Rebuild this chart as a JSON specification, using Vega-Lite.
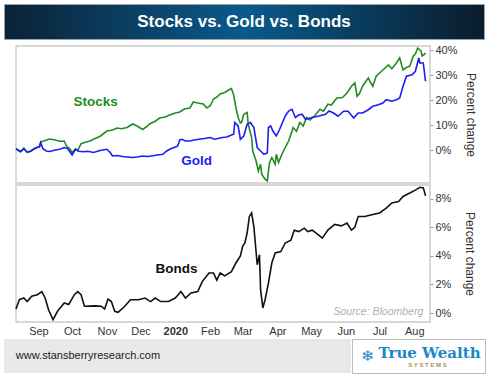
{
  "$schema": "https://vega.github.io/schema/vega-lite/v6.json",
  "background": "white",
  "padding": {"left": 3, "top": 3, "right": 3, "bottom": 3},
  "spacing": 3,
  "config": {"view": {"stroke": null}, "font": "Liberation Sans", "concat": {"spacing": 0}},
  "datasets": {
    "title": [{"label": "Stocks vs. Gold vs. Bonds"}],
    "site": [{"label": "www.stansberryresearch.com"}],
    "toplabels": [
      {"date": "2019-10-22", "value": 19.2, "label": "Stocks", "series": "Stocks"},
      {"date": "2020-01-20", "value": -4.4, "label": "Gold", "series": "Gold"}
    ],
    "bondlabel": [{"date": "2020-01-02", "value": 3.1, "label": "Bonds"}],
    "source": [{"date": "2020-08-09", "value": 0.07, "label": "Source: Bloomberg"}],
    "stockgold": [
      {"date": "2019-08-12", "series": "Stocks", "value": 0.5},
      {"date": "2019-08-16", "series": "Stocks", "value": -0.8},
      {"date": "2019-08-19", "series": "Stocks", "value": 0.8},
      {"date": "2019-08-22", "series": "Stocks", "value": -1.0},
      {"date": "2019-08-25", "series": "Stocks", "value": -0.5},
      {"date": "2019-08-29", "series": "Stocks", "value": 0.8},
      {"date": "2019-09-02", "series": "Stocks", "value": 1.2},
      {"date": "2019-09-03", "series": "Stocks", "value": 3.2},
      {"date": "2019-09-07", "series": "Stocks", "value": 3.8},
      {"date": "2019-09-11", "series": "Stocks", "value": 4.4},
      {"date": "2019-09-16", "series": "Stocks", "value": 4.0},
      {"date": "2019-09-20", "series": "Stocks", "value": 3.5},
      {"date": "2019-09-24", "series": "Stocks", "value": 3.6},
      {"date": "2019-09-26", "series": "Stocks", "value": 1.6},
      {"date": "2019-09-29", "series": "Stocks", "value": 0.5},
      {"date": "2019-10-01", "series": "Stocks", "value": -1.0},
      {"date": "2019-10-04", "series": "Stocks", "value": 0.5},
      {"date": "2019-10-06", "series": "Stocks", "value": -0.2},
      {"date": "2019-10-09", "series": "Stocks", "value": 2.5},
      {"date": "2019-10-12", "series": "Stocks", "value": 3.0},
      {"date": "2019-10-17", "series": "Stocks", "value": 3.6},
      {"date": "2019-10-21", "series": "Stocks", "value": 4.5},
      {"date": "2019-10-26", "series": "Stocks", "value": 5.5},
      {"date": "2019-11-01", "series": "Stocks", "value": 7.6},
      {"date": "2019-11-06", "series": "Stocks", "value": 8.0},
      {"date": "2019-11-10", "series": "Stocks", "value": 8.8},
      {"date": "2019-11-14", "series": "Stocks", "value": 8.5},
      {"date": "2019-11-19", "series": "Stocks", "value": 9.0},
      {"date": "2019-11-24", "series": "Stocks", "value": 10.4},
      {"date": "2019-11-28", "series": "Stocks", "value": 9.6},
      {"date": "2019-11-30", "series": "Stocks", "value": 9.0},
      {"date": "2019-12-03", "series": "Stocks", "value": 8.2},
      {"date": "2019-12-07", "series": "Stocks", "value": 9.5},
      {"date": "2019-12-09", "series": "Stocks", "value": 10.4},
      {"date": "2019-12-14", "series": "Stocks", "value": 11.5},
      {"date": "2019-12-18", "series": "Stocks", "value": 12.8},
      {"date": "2019-12-23", "series": "Stocks", "value": 13.2},
      {"date": "2019-12-27", "series": "Stocks", "value": 14.0},
      {"date": "2020-01-01", "series": "Stocks", "value": 14.8},
      {"date": "2020-01-05", "series": "Stocks", "value": 15.2},
      {"date": "2020-01-09", "series": "Stocks", "value": 16.4},
      {"date": "2020-01-14", "series": "Stocks", "value": 16.8},
      {"date": "2020-01-17", "series": "Stocks", "value": 19.2},
      {"date": "2020-01-21", "series": "Stocks", "value": 18.8},
      {"date": "2020-01-26", "series": "Stocks", "value": 18.4},
      {"date": "2020-01-29", "series": "Stocks", "value": 16.8},
      {"date": "2020-02-01", "series": "Stocks", "value": 17.6},
      {"date": "2020-02-04", "series": "Stocks", "value": 20.4},
      {"date": "2020-02-07", "series": "Stocks", "value": 21.2},
      {"date": "2020-02-10", "series": "Stocks", "value": 22.4},
      {"date": "2020-02-14", "series": "Stocks", "value": 23.0},
      {"date": "2020-02-19", "series": "Stocks", "value": 24.4},
      {"date": "2020-02-20", "series": "Stocks", "value": 24.6},
      {"date": "2020-02-22", "series": "Stocks", "value": 22.0},
      {"date": "2020-02-24", "series": "Stocks", "value": 17.0},
      {"date": "2020-02-26", "series": "Stocks", "value": 13.0},
      {"date": "2020-02-28", "series": "Stocks", "value": 10.8},
      {"date": "2020-02-29", "series": "Stocks", "value": 11.0},
      {"date": "2020-03-02", "series": "Stocks", "value": 14.3},
      {"date": "2020-03-05", "series": "Stocks", "value": 15.0},
      {"date": "2020-03-06", "series": "Stocks", "value": 10.3},
      {"date": "2020-03-09", "series": "Stocks", "value": 5.0},
      {"date": "2020-03-10", "series": "Stocks", "value": -0.4},
      {"date": "2020-03-13", "series": "Stocks", "value": -4.4},
      {"date": "2020-03-15", "series": "Stocks", "value": -8.4},
      {"date": "2020-03-17", "series": "Stocks", "value": -5.7},
      {"date": "2020-03-18", "series": "Stocks", "value": -9.7},
      {"date": "2020-03-21", "series": "Stocks", "value": -11.7},
      {"date": "2020-03-23", "series": "Stocks", "value": -12.4},
      {"date": "2020-03-24", "series": "Stocks", "value": -8.4},
      {"date": "2020-03-25", "series": "Stocks", "value": -5.0},
      {"date": "2020-03-27", "series": "Stocks", "value": -3.0},
      {"date": "2020-03-30", "series": "Stocks", "value": -5.7},
      {"date": "2020-03-31", "series": "Stocks", "value": -1.7},
      {"date": "2020-04-02", "series": "Stocks", "value": -5.0},
      {"date": "2020-04-05", "series": "Stocks", "value": -1.7},
      {"date": "2020-04-08", "series": "Stocks", "value": 1.0},
      {"date": "2020-04-11", "series": "Stocks", "value": 3.6},
      {"date": "2020-04-14", "series": "Stocks", "value": 7.6},
      {"date": "2020-04-15", "series": "Stocks", "value": 9.0},
      {"date": "2020-04-18", "series": "Stocks", "value": 7.5},
      {"date": "2020-04-21", "series": "Stocks", "value": 11.0},
      {"date": "2020-04-24", "series": "Stocks", "value": 9.6},
      {"date": "2020-04-27", "series": "Stocks", "value": 13.0},
      {"date": "2020-04-30", "series": "Stocks", "value": 12.0},
      {"date": "2020-05-04", "series": "Stocks", "value": 13.6},
      {"date": "2020-05-09", "series": "Stocks", "value": 16.3},
      {"date": "2020-05-12", "series": "Stocks", "value": 15.5},
      {"date": "2020-05-16", "series": "Stocks", "value": 18.3},
      {"date": "2020-05-19", "series": "Stocks", "value": 18.0},
      {"date": "2020-05-24", "series": "Stocks", "value": 20.8},
      {"date": "2020-05-29", "series": "Stocks", "value": 21.0},
      {"date": "2020-06-02", "series": "Stocks", "value": 22.8},
      {"date": "2020-06-06", "series": "Stocks", "value": 25.5},
      {"date": "2020-06-09", "series": "Stocks", "value": 26.8},
      {"date": "2020-06-11", "series": "Stocks", "value": 21.5},
      {"date": "2020-06-13", "series": "Stocks", "value": 22.5},
      {"date": "2020-06-16", "series": "Stocks", "value": 25.6},
      {"date": "2020-06-21", "series": "Stocks", "value": 28.8},
      {"date": "2020-06-23", "series": "Stocks", "value": 27.0},
      {"date": "2020-06-25", "series": "Stocks", "value": 25.5},
      {"date": "2020-06-28", "series": "Stocks", "value": 29.5},
      {"date": "2020-07-04", "series": "Stocks", "value": 32.0},
      {"date": "2020-07-09", "series": "Stocks", "value": 34.0},
      {"date": "2020-07-12", "series": "Stocks", "value": 32.5},
      {"date": "2020-07-16", "series": "Stocks", "value": 34.8},
      {"date": "2020-07-19", "series": "Stocks", "value": 36.8},
      {"date": "2020-07-22", "series": "Stocks", "value": 32.0},
      {"date": "2020-07-25", "series": "Stocks", "value": 33.0},
      {"date": "2020-07-28", "series": "Stocks", "value": 33.5},
      {"date": "2020-07-31", "series": "Stocks", "value": 37.5},
      {"date": "2020-08-02", "series": "Stocks", "value": 38.5},
      {"date": "2020-08-04", "series": "Stocks", "value": 40.8},
      {"date": "2020-08-06", "series": "Stocks", "value": 40.0},
      {"date": "2020-08-07", "series": "Stocks", "value": 39.6},
      {"date": "2020-08-08", "series": "Stocks", "value": 37.6},
      {"date": "2020-08-10", "series": "Stocks", "value": 38.2},
      {"date": "2020-08-11", "series": "Stocks", "value": 38.8},
      {"date": "2019-08-12", "series": "Gold", "value": 0.5},
      {"date": "2019-08-16", "series": "Gold", "value": -0.6},
      {"date": "2019-08-19", "series": "Gold", "value": 0.4},
      {"date": "2019-08-22", "series": "Gold", "value": -0.8},
      {"date": "2019-08-25", "series": "Gold", "value": -0.5},
      {"date": "2019-08-28", "series": "Gold", "value": 0.4},
      {"date": "2019-08-30", "series": "Gold", "value": 0.8},
      {"date": "2019-09-02", "series": "Gold", "value": 1.5},
      {"date": "2019-09-03", "series": "Gold", "value": 3.0},
      {"date": "2019-09-05", "series": "Gold", "value": 0.5},
      {"date": "2019-09-08", "series": "Gold", "value": -0.4},
      {"date": "2019-09-11", "series": "Gold", "value": -0.6},
      {"date": "2019-09-16", "series": "Gold", "value": 0.0},
      {"date": "2019-09-20", "series": "Gold", "value": 0.3},
      {"date": "2019-09-24", "series": "Gold", "value": 1.0},
      {"date": "2019-09-27", "series": "Gold", "value": 0.6},
      {"date": "2019-10-01", "series": "Gold", "value": -2.0},
      {"date": "2019-10-04", "series": "Gold", "value": 0.3},
      {"date": "2019-10-07", "series": "Gold", "value": -0.5},
      {"date": "2019-10-11", "series": "Gold", "value": -0.7},
      {"date": "2019-10-15", "series": "Gold", "value": -0.5},
      {"date": "2019-10-20", "series": "Gold", "value": -1.0},
      {"date": "2019-10-26", "series": "Gold", "value": -0.2},
      {"date": "2019-11-01", "series": "Gold", "value": 0.3},
      {"date": "2019-11-04", "series": "Gold", "value": -1.0},
      {"date": "2019-11-06", "series": "Gold", "value": -2.4},
      {"date": "2019-11-10", "series": "Gold", "value": -2.2},
      {"date": "2019-11-15", "series": "Gold", "value": -2.6},
      {"date": "2019-11-19", "series": "Gold", "value": -2.8},
      {"date": "2019-11-24", "series": "Gold", "value": -3.0},
      {"date": "2019-11-28", "series": "Gold", "value": -2.8},
      {"date": "2019-12-03", "series": "Gold", "value": -2.4},
      {"date": "2019-12-07", "series": "Gold", "value": -2.6},
      {"date": "2019-12-12", "series": "Gold", "value": -2.3},
      {"date": "2019-12-16", "series": "Gold", "value": -2.0},
      {"date": "2019-12-21", "series": "Gold", "value": -1.7},
      {"date": "2019-12-24", "series": "Gold", "value": -0.5},
      {"date": "2019-12-27", "series": "Gold", "value": 0.3},
      {"date": "2019-12-31", "series": "Gold", "value": 1.0},
      {"date": "2020-01-03", "series": "Gold", "value": 1.5},
      {"date": "2020-01-05", "series": "Gold", "value": 4.0},
      {"date": "2020-01-07", "series": "Gold", "value": 4.3},
      {"date": "2020-01-10", "series": "Gold", "value": 3.6},
      {"date": "2020-01-14", "series": "Gold", "value": 3.6},
      {"date": "2020-01-18", "series": "Gold", "value": 4.0},
      {"date": "2020-01-22", "series": "Gold", "value": 4.3},
      {"date": "2020-01-27", "series": "Gold", "value": 4.6},
      {"date": "2020-02-01", "series": "Gold", "value": 5.0},
      {"date": "2020-02-05", "series": "Gold", "value": 4.3},
      {"date": "2020-02-07", "series": "Gold", "value": 4.5},
      {"date": "2020-02-12", "series": "Gold", "value": 5.0},
      {"date": "2020-02-16", "series": "Gold", "value": 5.2},
      {"date": "2020-02-19", "series": "Gold", "value": 5.8},
      {"date": "2020-02-22", "series": "Gold", "value": 6.3},
      {"date": "2020-02-23", "series": "Gold", "value": 11.0},
      {"date": "2020-02-26", "series": "Gold", "value": 9.6},
      {"date": "2020-02-28", "series": "Gold", "value": 4.3},
      {"date": "2020-03-02", "series": "Gold", "value": 5.6},
      {"date": "2020-03-05", "series": "Gold", "value": 10.3},
      {"date": "2020-03-08", "series": "Gold", "value": 11.0},
      {"date": "2020-03-11", "series": "Gold", "value": 9.0},
      {"date": "2020-03-14", "series": "Gold", "value": 1.0},
      {"date": "2020-03-17", "series": "Gold", "value": -0.4},
      {"date": "2020-03-20", "series": "Gold", "value": -1.7},
      {"date": "2020-03-23", "series": "Gold", "value": -1.2},
      {"date": "2020-03-24", "series": "Gold", "value": 9.0},
      {"date": "2020-03-26", "series": "Gold", "value": 9.6},
      {"date": "2020-03-28", "series": "Gold", "value": 7.6},
      {"date": "2020-03-31", "series": "Gold", "value": 5.6},
      {"date": "2020-04-03", "series": "Gold", "value": 8.3},
      {"date": "2020-04-08", "series": "Gold", "value": 13.6},
      {"date": "2020-04-11", "series": "Gold", "value": 15.6},
      {"date": "2020-04-14", "series": "Gold", "value": 16.3},
      {"date": "2020-04-17", "series": "Gold", "value": 13.0},
      {"date": "2020-04-20", "series": "Gold", "value": 14.0},
      {"date": "2020-04-23", "series": "Gold", "value": 14.3},
      {"date": "2020-04-26", "series": "Gold", "value": 12.3},
      {"date": "2020-05-02", "series": "Gold", "value": 13.0},
      {"date": "2020-05-08", "series": "Gold", "value": 13.6},
      {"date": "2020-05-14", "series": "Gold", "value": 14.3},
      {"date": "2020-05-17", "series": "Gold", "value": 15.6},
      {"date": "2020-05-21", "series": "Gold", "value": 14.8},
      {"date": "2020-05-25", "series": "Gold", "value": 13.5},
      {"date": "2020-05-30", "series": "Gold", "value": 15.5},
      {"date": "2020-06-03", "series": "Gold", "value": 15.5},
      {"date": "2020-06-08", "series": "Gold", "value": 12.8},
      {"date": "2020-06-12", "series": "Gold", "value": 14.8},
      {"date": "2020-06-16", "series": "Gold", "value": 14.8},
      {"date": "2020-06-21", "series": "Gold", "value": 16.1},
      {"date": "2020-06-25", "series": "Gold", "value": 17.5},
      {"date": "2020-06-30", "series": "Gold", "value": 18.1},
      {"date": "2020-07-04", "series": "Gold", "value": 18.8},
      {"date": "2020-07-07", "series": "Gold", "value": 20.1},
      {"date": "2020-07-12", "series": "Gold", "value": 19.5},
      {"date": "2020-07-16", "series": "Gold", "value": 20.1},
      {"date": "2020-07-19", "series": "Gold", "value": 20.8},
      {"date": "2020-07-22", "series": "Gold", "value": 25.5},
      {"date": "2020-07-25", "series": "Gold", "value": 29.5},
      {"date": "2020-07-30", "series": "Gold", "value": 30.1},
      {"date": "2020-08-02", "series": "Gold", "value": 31.5},
      {"date": "2020-08-05", "series": "Gold", "value": 36.8},
      {"date": "2020-08-06", "series": "Gold", "value": 34.8},
      {"date": "2020-08-09", "series": "Gold", "value": 34.8},
      {"date": "2020-08-11", "series": "Gold", "value": 27.5}
    ],
    "bonds": [
      {"date": "2019-08-12", "value": 0.28},
      {"date": "2019-08-15", "value": 0.93},
      {"date": "2019-08-19", "value": 1.05},
      {"date": "2019-08-22", "value": 0.8},
      {"date": "2019-08-26", "value": 1.17},
      {"date": "2019-08-31", "value": 1.28},
      {"date": "2019-09-04", "value": 1.5},
      {"date": "2019-09-07", "value": 1.05},
      {"date": "2019-09-10", "value": 0.23},
      {"date": "2019-09-14", "value": -0.47},
      {"date": "2019-09-18", "value": 0.12},
      {"date": "2019-09-24", "value": 0.7},
      {"date": "2019-09-28", "value": 0.6},
      {"date": "2019-10-03", "value": 1.28},
      {"date": "2019-10-06", "value": 1.5},
      {"date": "2019-10-09", "value": 1.28},
      {"date": "2019-10-12", "value": 0.47},
      {"date": "2019-10-21", "value": 0.5},
      {"date": "2019-10-27", "value": 0.47},
      {"date": "2019-10-30", "value": 0.28},
      {"date": "2019-11-02", "value": 0.98},
      {"date": "2019-11-05", "value": 0.8},
      {"date": "2019-11-08", "value": 0.12},
      {"date": "2019-11-11", "value": 0.05},
      {"date": "2019-11-17", "value": 0.47},
      {"date": "2019-11-22", "value": 0.93},
      {"date": "2019-11-29", "value": 0.93},
      {"date": "2019-12-05", "value": 1.05},
      {"date": "2019-12-10", "value": 0.8},
      {"date": "2019-12-14", "value": 1.05},
      {"date": "2019-12-19", "value": 0.8},
      {"date": "2019-12-26", "value": 0.8},
      {"date": "2020-01-01", "value": 1.05},
      {"date": "2020-01-06", "value": 1.5},
      {"date": "2020-01-10", "value": 1.05},
      {"date": "2020-01-15", "value": 1.4},
      {"date": "2020-01-21", "value": 1.5},
      {"date": "2020-01-25", "value": 2.2},
      {"date": "2020-01-31", "value": 2.8},
      {"date": "2020-02-04", "value": 2.8},
      {"date": "2020-02-07", "value": 2.3},
      {"date": "2020-02-10", "value": 2.8},
      {"date": "2020-02-14", "value": 2.6},
      {"date": "2020-02-20", "value": 2.9},
      {"date": "2020-02-24", "value": 3.5},
      {"date": "2020-02-28", "value": 4.0},
      {"date": "2020-03-01", "value": 4.66},
      {"date": "2020-03-03", "value": 4.9},
      {"date": "2020-03-05", "value": 5.6},
      {"date": "2020-03-07", "value": 6.76},
      {"date": "2020-03-09", "value": 7.0},
      {"date": "2020-03-11", "value": 6.06},
      {"date": "2020-03-14", "value": 3.38},
      {"date": "2020-03-16", "value": 4.08},
      {"date": "2020-03-17", "value": 1.63},
      {"date": "2020-03-19", "value": 0.35},
      {"date": "2020-03-21", "value": 0.93},
      {"date": "2020-03-24", "value": 2.1},
      {"date": "2020-03-27", "value": 3.5},
      {"date": "2020-03-30", "value": 4.2},
      {"date": "2020-04-04", "value": 4.3},
      {"date": "2020-04-08", "value": 4.9},
      {"date": "2020-04-13", "value": 5.1},
      {"date": "2020-04-16", "value": 5.8},
      {"date": "2020-04-20", "value": 5.7},
      {"date": "2020-04-25", "value": 5.94},
      {"date": "2020-04-28", "value": 5.7},
      {"date": "2020-05-02", "value": 5.8},
      {"date": "2020-05-07", "value": 5.5},
      {"date": "2020-05-11", "value": 5.24},
      {"date": "2020-05-16", "value": 5.8},
      {"date": "2020-05-22", "value": 6.2},
      {"date": "2020-05-28", "value": 6.1},
      {"date": "2020-06-02", "value": 6.3},
      {"date": "2020-06-06", "value": 5.8},
      {"date": "2020-06-09", "value": 6.0},
      {"date": "2020-06-12", "value": 6.76},
      {"date": "2020-06-18", "value": 6.76},
      {"date": "2020-06-24", "value": 6.88},
      {"date": "2020-07-01", "value": 7.0},
      {"date": "2020-07-07", "value": 7.34},
      {"date": "2020-07-12", "value": 7.7},
      {"date": "2020-07-18", "value": 7.8},
      {"date": "2020-07-22", "value": 8.16},
      {"date": "2020-07-28", "value": 8.4},
      {"date": "2020-08-02", "value": 8.6},
      {"date": "2020-08-06", "value": 8.8},
      {"date": "2020-08-09", "value": 8.75},
      {"date": "2020-08-10", "value": 8.5},
      {"date": "2020-08-11", "value": 8.2}
    ]
  },
  "vconcat": [
    {
      "width": 480,
      "height": 35,
      "view": {
        "fill": {"gradient": "linear", "x1": 0, "y1": 0, "x2": 1, "y2": 0,
          "stops": [
            {"offset": 0, "color": "#0b2236"},
            {"offset": 0.5, "color": "#0a5a8c"},
            {"offset": 1, "color": "#0a1c2c"}
          ]},
        "stroke": "#9aa4ad"
      },
      "data": {"name": "title"},
      "mark": {"type": "text", "color": "white", "fontSize": 17, "fontWeight": "bold"},
      "encoding": {"text": {"field": "label"}}
    },
    {
      "spacing": 1,
      "vconcat": [
        {
          "spacing": 0,
          "hconcat": [
            {
              "width": 8,
              "height": 274,
              "data": {"values": []},
              "mark": "text",
              "encoding": {}
            },
            {
              "spacing": -7,
              "vconcat": [
                {
                  "width": 414,
                  "height": 137,
                  "view": {"stroke": "#cccccc", "strokeWidth": 1.5},
                  "encoding": {
                    "x": {"field": "date", "type": "temporal",
                      "scale": {"domain": [{"year": 2019, "month": "aug", "date": 12}, {"year": 2020, "month": "aug", "date": 15}]},
                      "axis": null},
                    "y": {"field": "value", "type": "quantitative",
                      "scale": {"domain": [-13.2, 41.6], "nice": false, "zero": false},
                      "axis": {"orient": "right", "values": [0, 10, 20, 30, 40], "labelExpr": "datum.value + '%'",
                        "labelOverlap": false, "labelFlush": false,
                        "title": "Percent change", "grid": false, "domain": false, "ticks": true, "tickSize": 3,
                        "tickColor": "#999999", "labelFontSize": 11, "labelColor": "#333333", "labelPadding": 2,
                        "titleFontSize": 12, "titleFontWeight": "normal", "titleColor": "#333333", "titlePadding": 6}},
                    "color": {"field": "series", "type": "nominal",
                      "scale": {"domain": ["Stocks", "Gold"], "range": ["#238b23", "#1c1cf5"]}, "legend": null}
                  },
                  "layer": [
                    {
                      "data": {"name": "stockgold"},
                      "mark": {"type": "line", "strokeWidth": 1.6}
                    },
                    {
                      "data": {"name": "toplabels"},
                      "mark": {"type": "text", "fontSize": 13.5, "fontWeight": "bold"},
                      "encoding": {"text": {"field": "label"}}
                    }
                  ]
                },
                {
                  "width": 414,
                  "height": 137,
                  "view": {"stroke": "#cccccc", "strokeWidth": 1.5},
                  "encoding": {
                    "x": {"field": "date", "type": "temporal",
                      "scale": {"domain": [{"year": 2019, "month": "aug", "date": 12}, {"year": 2020, "month": "aug", "date": 15}]},
                      "axis": {"tickCount": {"interval": "month", "step": 1}, "labelOverlap": false, "labelFlush": false,
                        "labelExpr": "month(datum.value) == 0 ? '2020' : timeFormat(datum.value, '%b')",
                        "labelFontWeight": {"condition": {"test": "month(datum.value) == 0", "value": "bold"}, "value": "normal"},
                        "grid": false, "domain": false, "ticks": false,
                        "labelFontSize": 11, "labelColor": "#333333", "labelPadding": 3, "title": null}},
                    "y": {"field": "value", "type": "quantitative",
                      "scale": {"domain": [-0.63, 8.96], "nice": false, "zero": false},
                      "axis": {"orient": "right", "values": [0, 2, 4, 6, 8], "labelExpr": "datum.value + '%'",
                        "labelOverlap": false, "labelFlush": false,
                        "title": "Percent change", "grid": false, "domain": false, "ticks": true, "tickSize": 3,
                        "tickColor": "#999999", "labelFontSize": 11, "labelColor": "#333333", "labelPadding": 2,
                        "titleFontSize": 12, "titleFontWeight": "normal", "titleColor": "#333333", "titlePadding": 12}}
                  },
                  "layer": [
                    {
                      "data": {"name": "bonds"},
                      "mark": {"type": "line", "strokeWidth": 1.6, "color": "#111111"}
                    },
                    {
                      "data": {"name": "bondlabel"},
                      "mark": {"type": "text", "fontSize": 13.5, "fontWeight": "bold", "color": "#111111"},
                      "encoding": {"text": {"field": "label"}}
                    },
                    {
                      "data": {"name": "source"},
                      "mark": {"type": "text", "fontSize": 10.5, "fontStyle": "italic", "color": "#b0b0b0", "align": "right"},
                      "encoding": {"text": {"field": "label"}}
                    }
                  ]
                }
              ]
            }
          ]
        },
        {
          "spacing": 0,
          "hconcat": [
            {
              "width": 168,
              "height": 34,
              "view": {"fill": "#e8e8e8"},
              "data": {"name": "site"},
              "mark": {"type": "text", "fontSize": 11, "color": "#222222"},
              "encoding": {"text": {"field": "label"}}
            },
            {
              "width": 179,
              "height": 34,
              "view": {"fill": "#e8e8e8"},
              "data": {"values": []},
              "mark": "text",
              "encoding": {}
            },
            {
              "width": 133,
              "height": 34,
              "view": {"fill": "white", "stroke": "#bbbbbb"},
              "layer": [
                {
                  "data": {"values": [{"label": "True Wealth"}]},
                  "mark": {"type": "text", "font": "DejaVu Serif", "fontWeight": "bold", "fontSize": 15, "color": "#1a86c8", "dx": 11, "dy": -3},
                  "encoding": {"text": {"field": "label"}}
                },
                {
                  "data": {"values": [{"label": "S Y S T E M S"}]},
                  "mark": {"type": "text", "fontWeight": "bold", "fontSize": 6, "color": "#a68b4f", "dx": 9, "dy": 9},
                  "encoding": {"text": {"field": "label"}}
                },
                {
                  "data": {"values": [{"label": "❄"}]},
                  "mark": {"type": "text", "font": "DejaVu Sans", "fontSize": 15, "color": "#1a86c8", "dx": -51, "dy": 0},
                  "encoding": {"text": {"field": "label"}}
                }
              ]
            }
          ]
        }
      ]
    }
  ]
}
